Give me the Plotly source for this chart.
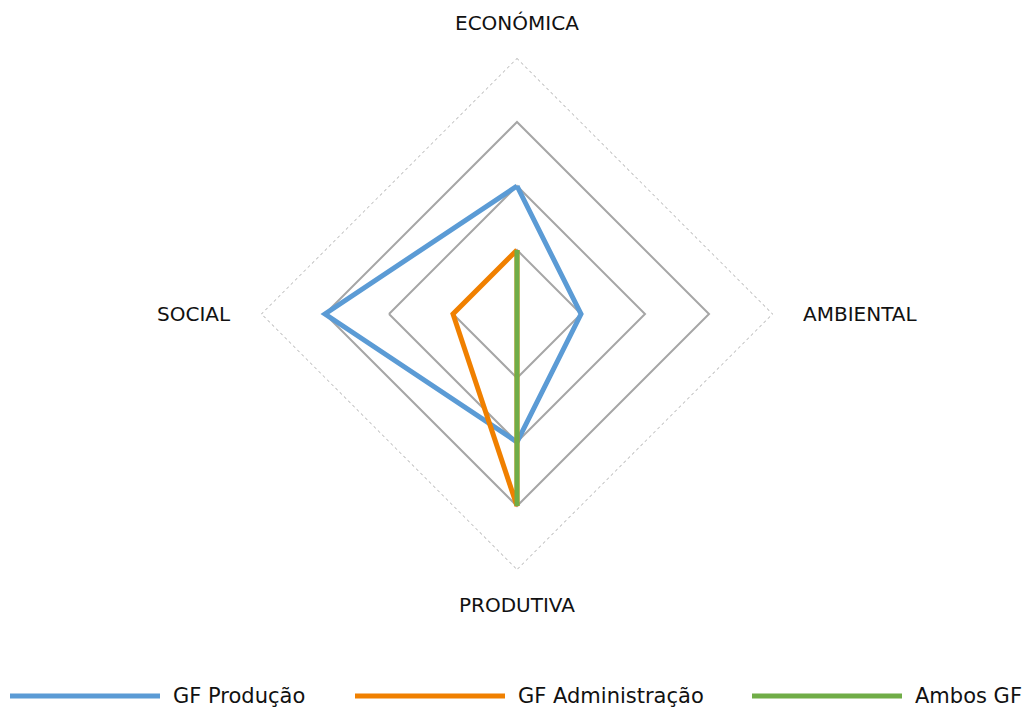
import math
import plotly.graph_objects as go

# Data
categories = ["ECONÓMICA", "AMBIENTAL", "PRODUTIVA", "SOCIAL"]
series_names = ["GF Produção", "GF Administração", "Ambos GF"]
gf_producao = [2, 1, 2, 3]
gf_administracao = [1, 0, 3, 1]
ambos_gf = [1, 0, 3, 0]
grid_levels = [1, 2, 3]
outer_level = 4

colors = ["#5B9BD5", "#F08000", "#70AD47"]

W, H = 1032, 711
cx, cy, R = 517, 314, 256  # polar centre / radius in pixels

fig = go.Figure()

# outer dotted boundary
fig.add_trace(go.Scatterpolar(
    r=[outer_level] * (len(categories) + 1),
    theta=categories + categories[:1],
    mode="lines",
    line=dict(color="#A8A8A8", width=1.3, dash="dot"),
    hoverinfo="skip",
    showlegend=False,
))

for name, vals, col in zip(series_names, [gf_producao, gf_administracao, ambos_gf], colors):
    fig.add_trace(go.Scatterpolar(
        r=vals + vals[:1],
        theta=categories + categories[:1],
        mode="lines",
        name=name,
        line=dict(color=col, width=5),
        showlegend=False,
    ))

fig.update_layout(
    width=W, height=H,
    margin=dict(l=0, r=0, t=0, b=0),
    paper_bgcolor="white",
    plot_bgcolor="white",
    showlegend=False,
    polar=dict(
        domain=dict(x=[(cx - R) / W, (cx + R) / W], y=[(H - cy - R) / H, (H - cy + R) / H]),
        gridshape="linear",
        bgcolor="white",
        radialaxis=dict(range=[0, outer_level], tickvals=grid_levels, showticklabels=False,
                        showline=False, ticks="", gridcolor="#A6A6A6", gridwidth=1.5),
        angularaxis=dict(direction="clockwise", rotation=90, showgrid=False, showline=False,
                         showticklabels=False, ticks=""),
    ),
)

# category labels placed around the polygon
annotations = []
label_font = dict(family="DejaVu Sans", size=20, color="#111111")
for i, cat in enumerate(categories):
    ang = math.radians(90 - 360 * i / len(categories))
    dx, dy = math.cos(ang), math.sin(ang)
    if abs(dy) > 0.5:
        dist = 291
        xa, ya = "center", "middle"
    else:
        dist = 284
        xa = "left" if dx > 0 else "right"
        ya = "middle"
    px = cx + dist * dx
    py = cy - dist * dy
    annotations.append(dict(text=cat, x=px / W, y=1 - py / H, xref="paper", yref="paper",
                            xanchor=xa, yanchor=ya, showarrow=False, font=label_font))

# custom legend with long line symbols
legend_y = 1 - 696 / H
line_starts = [10, 355, 752]
line_len = 150
shapes = []
for name, col, x0 in zip(series_names, colors, line_starts):
    shapes.append(dict(type="line", xref="paper", yref="paper",
                       x0=x0 / W, x1=(x0 + line_len) / W, y0=legend_y, y1=legend_y,
                       line=dict(color=col, width=5)))
    annotations.append(dict(text=name, x=(x0 + line_len + 11) / W, y=legend_y,
                            xref="paper", yref="paper", xanchor="left", yanchor="middle",
                            showarrow=False,
                            font=dict(family="DejaVu Sans", size=21, color="#111111")))

fig.update_layout(annotations=annotations, shapes=shapes)

fig.write_html("out.html", config={"displayModeBar": False},
               post_script="document.body.style.margin='0';")
